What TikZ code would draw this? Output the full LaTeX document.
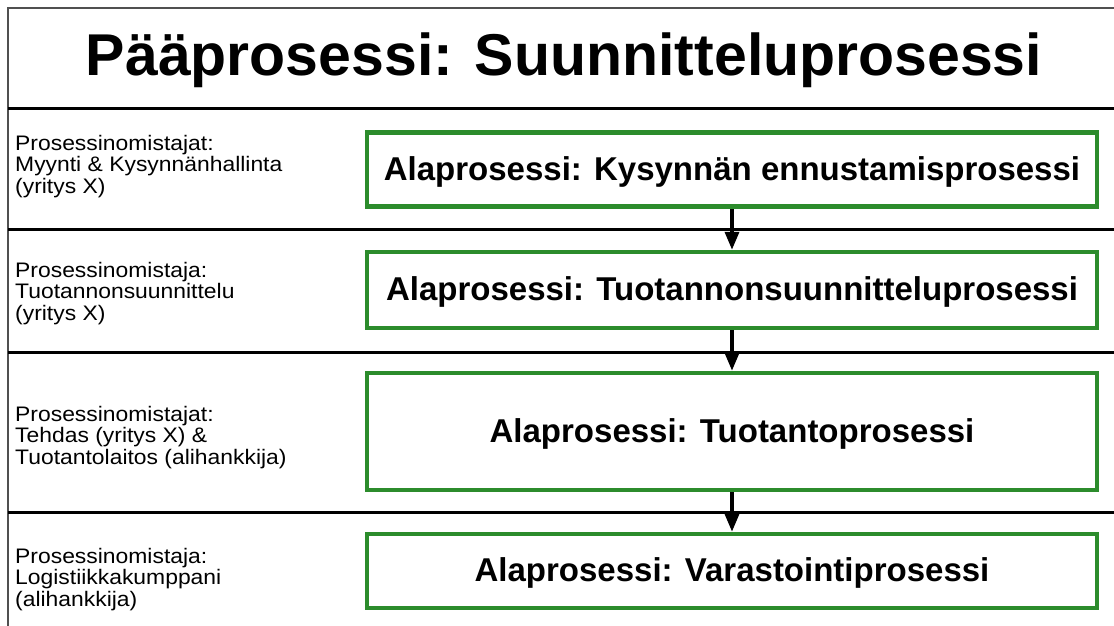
\documentclass[tikz,border=0pt]{standalone}
\usepackage{fontspec}
\setmainfont{Liberation Sans}
\newfontfamily\ownerfont[FakeStretch=1.09]{Liberation Sans}
\usetikzlibrary{arrows.meta}
\definecolor{boxgreen}{RGB}{44,140,44}
\definecolor{framegray}{RGB}{80,80,80}
\begin{document}
\begin{tikzpicture}[x=1pt,y=-1pt,
  frameline/.style={draw=framegray,line width=2pt},
  divider/.style={draw=black,line width=3pt},
  subbox/.style={draw=boxgreen,line width=4.5pt,minimum width=730pt,inner sep=0pt,
    text height=28pt,text depth=7pt,
    font=\bfseries\fontsize{33}{36}\selectfont},
  owner/.style={anchor=west,align=left,inner sep=0pt,
    font=\ownerfont\fontsize{21}{21.7}\selectfont},
  flow/.style={draw=black,line width=3.5pt,-{Triangle[length=18pt,width=14pt]}}]
\useasboundingbox (0,0) rectangle (1114,625);
\fill[white] (0,0) rectangle (1114,625);

% outer frame (open to the right and bottom)
\draw[frameline] (8,630) -- (8,8) -- (1120,8);

% row dividers
\foreach \yy in {108,229,352,512}
  \draw[divider] (8,\yy) -- (1120,\yy);

% main process title
\node[font=\bfseries\fontsize{59}{62}\selectfont,text height=42pt,text depth=0pt]
  (title) at (564,54.5) {Pääprosessi: Suunnitteluprosessi};

% process owners
\node[owner] (own1) at (15,166.3) {Prosessinomistajat:\\Myynti \& Kysynnänhallinta\\(yritys X)};
\node[owner] (own2) at (15,293.3) {Prosessinomistaja:\\Tuotannonsuunnittelu\\(yritys X)};
\node[owner] (own3) at (15,437.3) {Prosessinomistajat:\\Tehdas (yritys X) \&\\Tuotantolaitos (alihankkija)};
\node[owner] (own4) at (15,579.3) {Prosessinomistaja:\\Logistiikkakumppani\\(alihankkija)};

% sub-processes
\node[subbox,minimum height=74pt] (sub1) at (732,169.5) {Alaprosessi: Kysynnän ennustamisprosessi};
\node[subbox,minimum height=76pt] (sub2) at (732,290) {Alaprosessi: Tuotannonsuunnitteluprosessi};
\node[subbox,minimum height=117pt] (sub3) at (732,431.5) {Alaprosessi: Tuotantoprosessi};
\node[subbox,minimum height=74pt] (sub4) at (732,571) {Alaprosessi: Varastointiprosessi};

% flow between sub-processes
\draw[flow] (sub1) -- (sub2);
\draw[flow] (sub2) -- (sub3);
\draw[flow] (sub3) -- (sub4);
\end{tikzpicture}
\end{document}
